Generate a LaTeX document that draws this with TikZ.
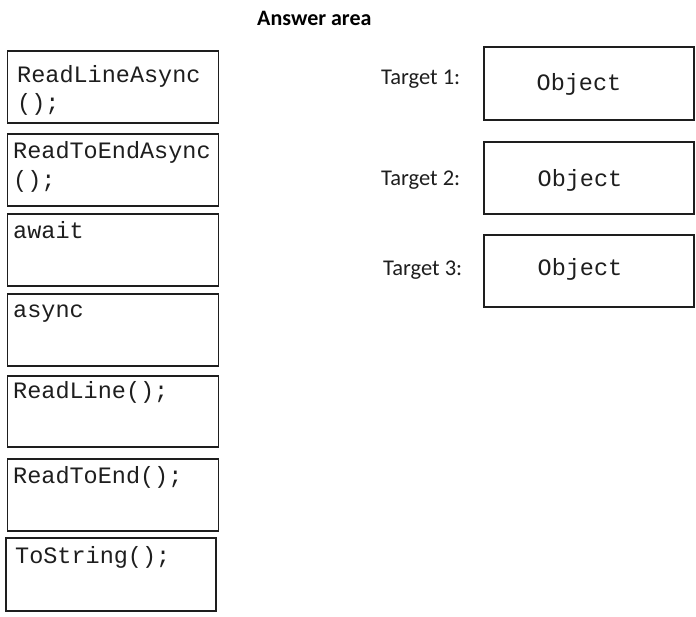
\documentclass[tikz,border=0pt]{standalone}
\usepackage{fontspec}
\newfontfamily\codefont{Liberation Mono}
\newfontfamily\calfont{Carlito}
\definecolor{ink}{HTML}{1E1E1E}
\begin{document}
\begin{tikzpicture}[x=1pt,y=-1pt,
  box/.style={draw=ink, line width=1.6pt, rectangle, inner sep=0pt},
  code/.style={font=\codefont\fontsize{23.5}{27}\selectfont, text=ink, inner sep=0pt, anchor=base west},
  label/.style={font=\calfont\fontsize{22.5}{26}\selectfont, text=ink, inner sep=0pt, anchor=base west},
  title/.style={font=\calfont\bfseries\fontsize{22}{26}\selectfont, text=black, inner sep=0pt, anchor=base west}]
\useasboundingbox[fill=white] (0,0) rectangle (696,616);
% title
\node[title] (title) at (257,25) {Answer area};
% left boxes
\node[box, minimum width=211pt, minimum height=72pt] (b1) at (113,87) {};
\node[box, minimum width=211pt, minimum height=72pt] (b2) at (113,170) {};
\node[box, minimum width=211pt, minimum height=72pt] (b3) at (113,250) {};
\node[box, minimum width=211pt, minimum height=72pt] (b4) at (113,330) {};
\node[box, minimum width=211pt, minimum height=71pt] (b5) at (113,411.5) {};
\node[box, minimum width=211pt, minimum height=72pt] (b6) at (113,495) {};
\node[box, minimum width=210pt, minimum height=73pt] (b7) at (111,574.5) {};
\node[code] (c1a) at (17,82) {ReadLineAsync};
\node[code] (c1b) at (17,110) {();};
\node[code] (c2a) at (13,158) {ReadToEndAsync};
\node[code] (c2b) at (13,187) {();};
\node[code] (c3) at (13,238) {await};
\node[code] (c4) at (13,317) {async};
\node[code] (c5) at (13,398) {ReadLine();};
\node[code] (c6) at (13,483) {ReadToEnd();};
\node[code] (c7) at (15,563) {ToString();};
% targets
\node[box, minimum width=210pt, minimum height=73pt] (r1) at (589,83.5) {};
\node[box, minimum width=210pt, minimum height=72pt] (r2) at (589,178) {};
\node[box, minimum width=210pt, minimum height=72pt] (r3) at (589,271) {};
\node[label] (l1) at (381,84) {Target 1:};
\node[label] (l2) at (381,185) {Target 2:};
\node[label] (l3) at (383,275) {Target 3:};
\node[code, anchor=base] (o1) at (579,90) {Object};
\node[code, anchor=base] (o2) at (580,186) {Object};
\node[code, anchor=base] (o3) at (580,275) {Object};
\end{tikzpicture}
\end{document}
